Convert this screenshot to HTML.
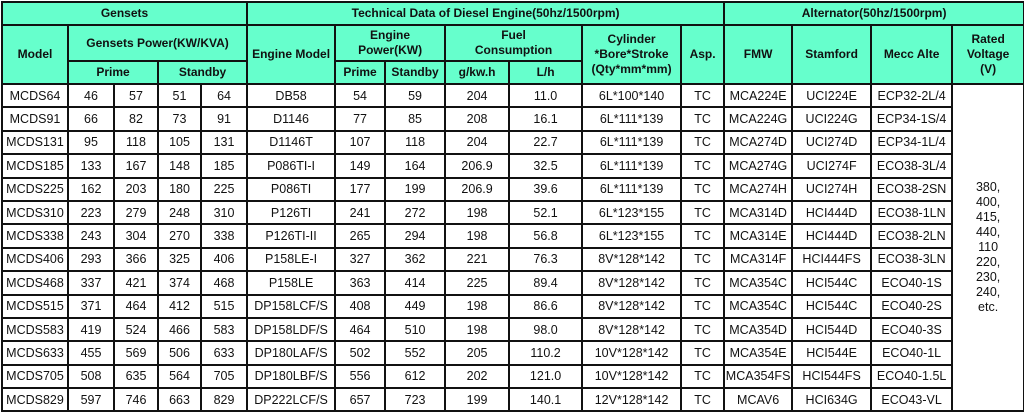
<!DOCTYPE html>
<html><head><meta charset="utf-8"><style>
html,body{margin:0;padding:0;background:#fff;width:1024px;height:411px;overflow:hidden}
table{position:absolute;left:1px;top:1px;border-collapse:collapse;table-layout:fixed;width:1022px;font-family:"Liberation Sans",sans-serif;font-size:12.5px;color:#111}
td,th{border:2px solid #111;padding:0;text-align:center;overflow:hidden;white-space:nowrap}
th{background:#66ffcc;font-weight:bold;font-size:12px;line-height:15px}
tbody td{height:21.4px;line-height:20px}
.v{white-space:normal;line-height:15px;font-size:12.5px;vertical-align:middle}
</style></head><body>
<table>
<colgroup>
<col style="width:66px"><col style="width:46px"><col style="width:44px"><col style="width:43px"><col style="width:46px">
<col style="width:88px"><col style="width:50px"><col style="width:60px"><col style="width:64px"><col style="width:73px">
<col style="width:99px"><col style="width:43px"><col style="width:68px"><col style="width:79px"><col style="width:81px"><col style="width:72px">
</colgroup>
<thead>
<tr style="height:23px"><th colspan="5">Gensets</th><th colspan="7">Technical Data of Diesel Engine(50hz/1500rpm)</th><th colspan="4">Alternator(50hz/1500rpm)</th></tr>
<tr style="height:36px"><th rowspan="2">Model</th><th colspan="4">Gensets Power(KW/KVA)</th><th rowspan="2">Engine Model</th><th colspan="2">Engine<br>Power(KW)</th><th colspan="2">Fuel<br>Consumption</th><th rowspan="2">Cylinder<br>*Bore*Stroke<br>(Qty*mm*mm)</th><th rowspan="2">Asp.</th><th rowspan="2">FMW</th><th rowspan="2">Stamford</th><th rowspan="2">Mecc Alte</th><th rowspan="2">Rated<br>Voltage<br>(V)</th></tr>
<tr style="height:23px"><th colspan="2">Prime</th><th colspan="2">Standby</th><th>Prime</th><th>Standby</th><th>g/kw.h</th><th>L/h</th></tr>
</thead>
<tbody>
<tr><td>MCDS64</td><td>46</td><td>57</td><td>51</td><td>64</td><td>DB58</td><td>54</td><td>59</td><td>204</td><td>11.0</td><td>6L*100*140</td><td>TC</td><td>MCA224E</td><td>UCI224E</td><td>ECP32-2L/4</td><td rowspan="14" class="v">380,<br>400,<br>415,<br>440,<br>110<br>220,<br>230,<br>240,<br>etc.</td></tr>
<tr><td>MCDS91</td><td>66</td><td>82</td><td>73</td><td>91</td><td>D1146</td><td>77</td><td>85</td><td>208</td><td>16.1</td><td>6L*111*139</td><td>TC</td><td>MCA224G</td><td>UCI224G</td><td>ECP34-1S/4</td></tr>
<tr><td>MCDS131</td><td>95</td><td>118</td><td>105</td><td>131</td><td>D1146T</td><td>107</td><td>118</td><td>204</td><td>22.7</td><td>6L*111*139</td><td>TC</td><td>MCA274D</td><td>UCI274D</td><td>ECP34-1L/4</td></tr>
<tr><td>MCDS185</td><td>133</td><td>167</td><td>148</td><td>185</td><td>P086TI-I</td><td>149</td><td>164</td><td>206.9</td><td>32.5</td><td>6L*111*139</td><td>TC</td><td>MCA274G</td><td>UCI274F</td><td>ECO38-3L/4</td></tr>
<tr><td>MCDS225</td><td>162</td><td>203</td><td>180</td><td>225</td><td>P086TI</td><td>177</td><td>199</td><td>206.9</td><td>39.6</td><td>6L*111*139</td><td>TC</td><td>MCA274H</td><td>UCI274H</td><td>ECO38-2SN</td></tr>
<tr><td>MCDS310</td><td>223</td><td>279</td><td>248</td><td>310</td><td>P126TI</td><td>241</td><td>272</td><td>198</td><td>52.1</td><td>6L*123*155</td><td>TC</td><td>MCA314D</td><td>HCI444D</td><td>ECO38-1LN</td></tr>
<tr><td>MCDS338</td><td>243</td><td>304</td><td>270</td><td>338</td><td>P126TI-II</td><td>265</td><td>294</td><td>198</td><td>56.8</td><td>6L*123*155</td><td>TC</td><td>MCA314E</td><td>HCI444D</td><td>ECO38-2LN</td></tr>
<tr><td>MCDS406</td><td>293</td><td>366</td><td>325</td><td>406</td><td>P158LE-I</td><td>327</td><td>362</td><td>221</td><td>76.3</td><td>8V*128*142</td><td>TC</td><td>MCA314F</td><td>HCI444FS</td><td>ECO38-3LN</td></tr>
<tr><td>MCDS468</td><td>337</td><td>421</td><td>374</td><td>468</td><td>P158LE</td><td>363</td><td>414</td><td>225</td><td>89.4</td><td>8V*128*142</td><td>TC</td><td>MCA354C</td><td>HCI544C</td><td>ECO40-1S</td></tr>
<tr><td>MCDS515</td><td>371</td><td>464</td><td>412</td><td>515</td><td>DP158LCF/S</td><td>408</td><td>449</td><td>198</td><td>86.6</td><td>8V*128*142</td><td>TC</td><td>MCA354C</td><td>HCI544C</td><td>ECO40-2S</td></tr>
<tr><td>MCDS583</td><td>419</td><td>524</td><td>466</td><td>583</td><td>DP158LDF/S</td><td>464</td><td>510</td><td>198</td><td>98.0</td><td>8V*128*142</td><td>TC</td><td>MCA354D</td><td>HCI544D</td><td>ECO40-3S</td></tr>
<tr><td>MCDS633</td><td>455</td><td>569</td><td>506</td><td>633</td><td>DP180LAF/S</td><td>502</td><td>552</td><td>205</td><td>110.2</td><td>10V*128*142</td><td>TC</td><td>MCA354E</td><td>HCI544E</td><td>ECO40-1L</td></tr>
<tr><td>MCDS705</td><td>508</td><td>635</td><td>564</td><td>705</td><td>DP180LBF/S</td><td>556</td><td>612</td><td>202</td><td>121.0</td><td>10V*128*142</td><td>TC</td><td>MCA354FS</td><td>HCI544FS</td><td>ECO40-1.5L</td></tr>
<tr><td>MCDS829</td><td>597</td><td>746</td><td>663</td><td>829</td><td>DP222LCF/S</td><td>657</td><td>723</td><td>199</td><td>140.1</td><td>12V*128*142</td><td>TC</td><td>MCAV6</td><td>HCI634G</td><td>ECO43-VL</td></tr>
</tbody>
</table>
</body></html>
